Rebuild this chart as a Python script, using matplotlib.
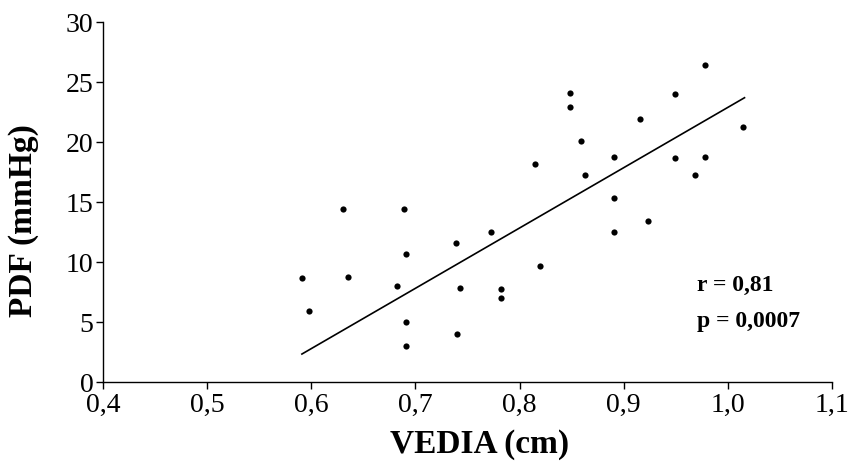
import matplotlib
matplotlib.use("Agg")
import matplotlib.pyplot as plt

# Data
vedia = [0.591, 0.598, 0.635, 0.630, 0.689, 0.691, 0.682, 0.691, 0.691,
         0.739, 0.743, 0.740, 0.773, 0.782, 0.782, 0.820, 0.815, 0.848,
         0.848, 0.859, 0.863, 0.891, 0.891, 0.891, 0.9235, 0.916, 0.949,
         0.949, 0.968, 0.978, 0.978, 1.015]
pdf = [8.64, 5.92, 8.78, 14.42, 14.42, 10.67, 8.03, 5.03, 3.03,
       11.58, 7.81, 4.03, 12.5, 7.78, 7.03, 9.69, 18.19, 24.11,
       22.89, 20.06, 17.25, 18.75, 15.36, 12.53, 13.44, 21.89, 24.03,
       18.64, 17.25, 18.78, 26.42, 21.28]
fit_x = [0.591, 1.016]
fit_y = [2.33, 23.69]
xticks = [0.4, 0.5, 0.6, 0.7, 0.8, 0.9, 1.0, 1.1]
xticklabels = ["0,4", "0,5", "0,6", "0,7", "0,8", "0,9", "1,0", "1,1"]
yticks = [0, 5, 10, 15, 20, 25, 30]
yticklabels = ["0", "5", "10", "15", "20", "25", "30"]
stats_text = ["r = 0,81", "p = 0,0007"]

serif = ["Liberation Serif", "DejaVu Serif"]

fig = plt.figure(figsize=(8.52, 4.66), dpi=100)
ax = fig.add_axes([103/852, 1-382/466, (832-103)/852, (382-22)/466])

ax.scatter(vedia, pdf, s=20, color="black", zorder=3, linewidths=0)
ax.plot(fit_x, fit_y, color="black", linewidth=1.2)

ax.set_xlim(0.4, 1.1)
ax.set_ylim(0, 30)
ax.set_xticks(xticks)
ax.set_xticklabels(xticklabels, family=serif, fontsize=20)
ax.set_yticks(yticks)
ax.set_yticklabels(yticklabels, family=serif, fontsize=20)
ax.tick_params(direction="out", length=5, width=1, color="black")
ax.tick_params(axis="x", pad=3)
ax.tick_params(axis="y", pad=2)

for s in ["top", "right"]:
    ax.spines[s].set_visible(False)
for s in ["left", "bottom"]:
    ax.spines[s].set_linewidth(1)
    ax.spines[s].set_color("black")

fig.text(480/852, 1-445/466, "VEDIA (cm)", family=serif, fontsize=24,
         fontweight="bold", ha="center", va="center")
fig.text(24/852, 1-221/466, "PDF (mmHg)", family=serif, fontsize=24,
         fontweight="bold", ha="center", va="center", rotation=90)

fig.text(697/852, 1-285/466, stats_text[0], family=serif, fontsize=17,
         fontweight="bold", ha="left", va="center")
fig.text(697/852, 1-321/466, stats_text[1], family=serif, fontsize=17,
         fontweight="bold", ha="left", va="center")

fig.savefig("out.png", dpi=100)
